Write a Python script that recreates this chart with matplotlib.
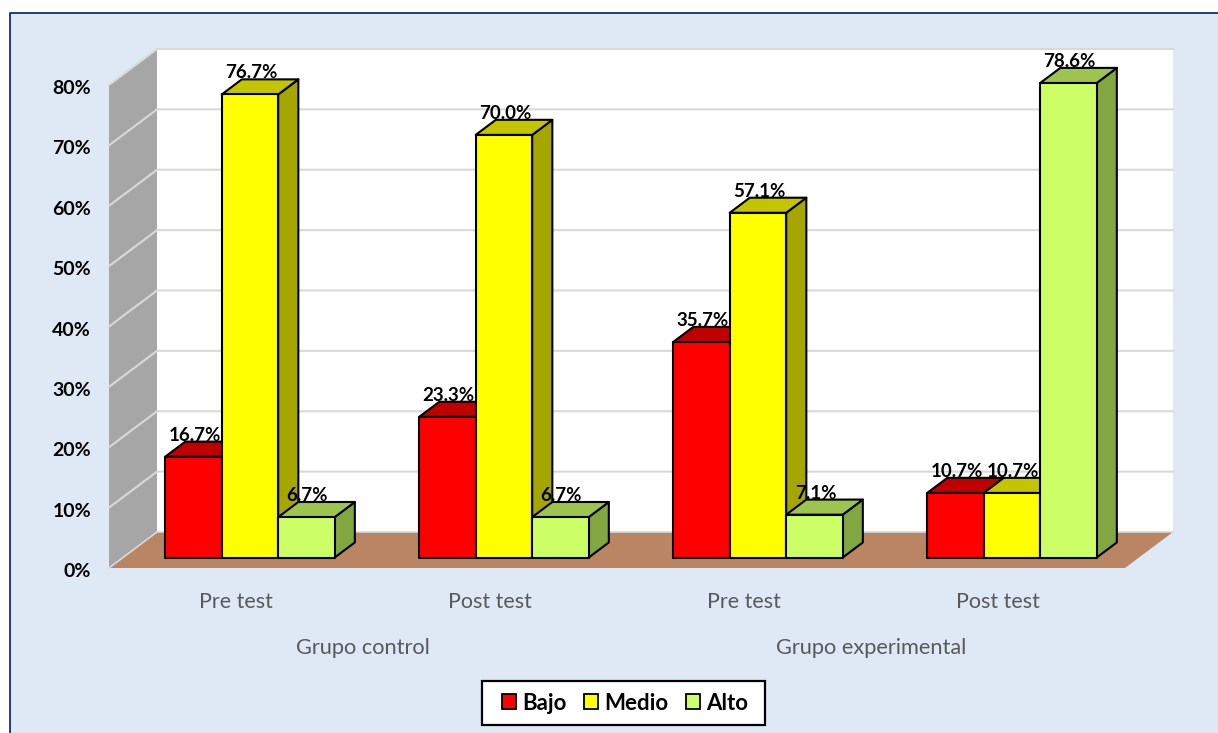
import matplotlib
matplotlib.use('Agg')
import matplotlib.pyplot as plt
from matplotlib.lines import Line2D
from matplotlib.patches import Patch, Polygon, Rectangle
from matplotlib.transforms import ScaledTranslation

plt.rcParams['font.family'] = ['Lato', 'DejaVu Sans']

tests = ['Pre test', 'Post test', 'Pre test', 'Post test']
groups = ['Grupo control', 'Grupo experimental']
series = ['Bajo', 'Medio', 'Alto']
bajo = [16.7, 23.3, 35.7, 10.7]
medio = [76.7, 70.0, 57.1, 10.7]
alto = [6.7, 6.7, 7.1, 78.6]
ticks = [0, 10, 20, 30, 40, 50, 60, 70, 80]

front = ['#FF0000', '#FFFF00', '#CCFF66']
top = ['#C00000', '#C4C400', '#9DC44F']
side = ['#990000', '#A6A600', '#82A640']

W, H = 1218, 733
DX = 48 / 254      # profundidad total en unidades de x
DY = 36 / 6.0375   # profundidad total en unidades de %
BAR_W = 56.5 / 254
D0, D1 = 0.29, 0.71


def pt(x, y, d):
    return (x + d * DX, y + d * DY)


def face(ax, pts, color, edge='none', lw=0, z=2):
    ax.add_patch(Polygon(pts, closed=True, facecolor=color, edgecolor=edge,
                         linewidth=lw, zorder=z, clip_on=False, joinstyle='round'))


def bar3d(ax, x, v, i, z):
    x1 = x + BAR_W
    face(ax, [pt(x1, 0, D0), pt(x1, 0, D1), pt(x1, v, D1), pt(x1, v, D0)], side[i], 'black', 1.5, z)
    face(ax, [pt(x, v, D0), pt(x1, v, D0), pt(x1, v, D1), pt(x, v, D1)], top[i], 'black', 1.5, z)
    face(ax, [pt(x, 0, D0), pt(x1, 0, D0), pt(x1, v, D0), pt(x, v, D0)], front[i], 'black', 1.5, z)


fig = plt.figure(figsize=(W / 100, H / 100), dpi=100, facecolor='white')

# panel de fondo con borde azul solo arriba e izquierda
fig.patches.append(Rectangle((10 / W, 0), 1, 1 - 13 / H, transform=fig.transFigure,
                             facecolor='#DEE9F5', edgecolor='none', zorder=-5))
fig.add_artist(Line2D([10 / W, 10 / W, 1], [0, 1 - 12.5 / H, 1 - 12.5 / H],
                      color='#002060', lw=1.2))

ax = fig.add_axes([109 / W, (H - 568) / H, 1016 / W, 483 / H])
ax.set_xlim(0, 4)
ax.set_ylim(0, 80)
ax.patch.set_visible(False)
for s in ax.spines.values():
    s.set_visible(False)

# paredes y piso
face(ax, [pt(0, 0, 1), pt(4, 0, 1), pt(4, 80, 1), pt(0, 80, 1)], 'white', z=0)
face(ax, [pt(0, 0, 0), pt(0, 0, 1), pt(0, 80, 1), pt(0, 80, 0)], '#A6A6A6', z=0)
face(ax, [pt(0, 0, 0), pt(4, 0, 0), pt(4, 0, 1), pt(0, 0, 1)], '#B98563', z=0)
for t in ticks:
    a, b, c = pt(0, t, 0), pt(0, t, 1), pt(4, t, 1)
    if t == 0:
        ax.plot([a[0], b[0]], [a[1], b[1]], color='#D9D9D9', lw=1.2, zorder=1, clip_on=False)
        ax.plot([b[0], c[0]], [b[1], c[1]], color='#D9D9D9', lw=1.2, zorder=1, clip_on=False)
        continue
    ax.plot([a[0], b[0], c[0]], [a[1], b[1], c[1]], color='#D9D9D9', lw=1.5,
            zorder=1, clip_on=False)

values = [bajo, medio, alto]
for k in range(len(tests)):
    x0 = k + 0.5 - 1.5 * BAR_W
    for i, vals in enumerate(values):
        x = x0 + i * BAR_W
        bar3d(ax, x, vals[k], i, 3 + i * 0.1)
        # etiqueta encima del borde trasero de la barra
        lx = pt(x + BAR_W / 2, vals[k], D0)[0]
        ly = pt(x, vals[k], D1)[1]
        ax.annotate(f'{vals[k]:.1f}%', (lx, ly), xytext=(1, -2),
                    textcoords='offset pixels', ha='center', va='bottom',
                    fontsize=13.5, fontweight='bold', color='black', zorder=10,
                    annotation_clip=False)

ax.set_yticks(ticks)
ax.set_yticklabels([f'{t}%' for t in ticks], fontsize=14, fontweight='bold', color='black')
ax.set_xticks([k + 0.5 for k in range(len(tests))])
ax.set_xticklabels(tests, fontsize=15.5, color='#595959')
ax.tick_params(axis='y', length=0, pad=13)
ax.tick_params(axis='x', length=0, pad=17)
# las etiquetas del eje y van un poco mas abajo que la linea
for lab in ax.get_yticklabels():
    lab.set_transform(lab.get_transform() + ScaledTranslation(0, -2 / 100, fig.dpi_scale_trans))

trans = ax.get_xaxis_transform()
for g, xc in zip(groups, [1, 3]):
    ax.text(xc, -0.165, g, transform=trans, ha='center', va='center',
            fontsize=15.7, color='#595959', clip_on=False)

# marco de la leyenda aparte, el texto no queda centrado dentro
fig.patches.append(Rectangle((482 / W, (H - 725) / H), 283 / W, 44 / H, transform=fig.transFigure,
                             facecolor='white', edgecolor='black', linewidth=1.6, zorder=4))
handles = [Patch(facecolor=c, edgecolor='black', linewidth=1.3, label=n)
           for c, n in zip(front, series)]
leg = fig.legend(handles=handles, ncol=3, loc='center', bbox_to_anchor=(625 / W, (H - 703) / H),
                 bbox_transform=fig.transFigure, frameon=False, handlelength=0.62, handleheight=0.62,
                 handletextpad=0.27, columnspacing=0.8, borderpad=0, borderaxespad=0,
                 prop={'weight': 'bold', 'size': 16})
leg.set_zorder(6)

fig.savefig('out.png', dpi=100, facecolor='white')
